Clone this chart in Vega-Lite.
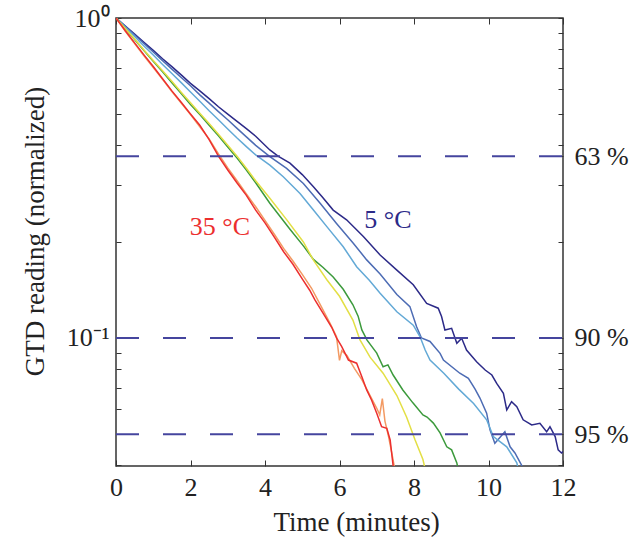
{
  "$schema": "https://vega.github.io/schema/vega-lite/v6.json",
  "width": 447,
  "height": 448,
  "autosize": {"type": "none"},
  "padding": {"left": 116, "top": 18, "right": 75, "bottom": 76},
  "background": "white",
  "config": {
    "view": {"stroke": "#333333", "strokeWidth": 1.5},
    "font": "Liberation Serif",
    "axis": {
      "labelFont": "Liberation Serif",
      "titleFont": "Liberation Serif",
      "labelColor": "#222222",
      "titleColor": "#222222",
      "tickColor": "#333333",
      "domain": false,
      "grid": false,
      "labelFontSize": 26,
      "titleFontSize": 27,
      "titleFontWeight": "normal",
      "labelOverlap": false,
      "labelFlush": false
    }
  },
  "datasets": {
    "curves": [
      {"c":"5 °C","t":0,"v":1},{"c":"5 °C","t":0.25,"v":0.944},{"c":"5 °C","t":0.5,"v":0.891},{"c":"5 °C","t":0.75,"v":0.839},{"c":"5 °C","t":1,"v":0.792},{"c":"5 °C","t":1.25,"v":0.746},{"c":"5 °C","t":1.5,"v":0.705},{"c":"5 °C","t":1.75,"v":0.664},{"c":"5 °C","t":2,"v":0.625},{"c":"5 °C","t":2.25,"v":0.592},{"c":"5 °C","t":2.5,"v":0.56},{"c":"5 °C","t":2.75,"v":0.528},{"c":"5 °C","t":3,"v":0.501},{"c":"5 °C","t":3.25,"v":0.475},{"c":"5 °C","t":3.5,"v":0.451},{"c":"5 °C","t":3.75,"v":0.427},{"c":"5 °C","t":4.13,"v":0.387},{"c":"5 °C","t":4.35,"v":0.37},{"c":"5 °C","t":4.67,"v":0.352},{"c":"5 °C","t":5,"v":0.324},{"c":"5 °C","t":5.3,"v":0.297},{"c":"5 °C","t":5.55,"v":0.275},{"c":"5 °C","t":5.83,"v":0.251},{"c":"5 °C","t":6.19,"v":0.234},{"c":"5 °C","t":6.64,"v":0.2075},{"c":"5 °C","t":7.09,"v":0.1816},{"c":"5 °C","t":7.54,"v":0.163},{"c":"5 °C","t":7.98,"v":0.1466},{"c":"5 °C","t":8.34,"v":0.1282},{"c":"5 °C","t":8.65,"v":0.1239},{"c":"5 °C","t":8.74,"v":0.1167},{"c":"5 °C","t":8.83,"v":0.1059},{"c":"5 °C","t":9.01,"v":0.1072},{"c":"5 °C","t":9.15,"v":0.0962},{"c":"5 °C","t":9.28,"v":0.0998},{"c":"5 °C","t":9.41,"v":0.0917},{"c":"5 °C","t":9.68,"v":0.0843},{"c":"5 °C","t":9.91,"v":0.0794},{"c":"5 °C","t":10.09,"v":0.0766},{"c":"5 °C","t":10.22,"v":0.0721},{"c":"5 °C","t":10.4,"v":0.0671},{"c":"5 °C","t":10.49,"v":0.0596},{"c":"5 °C","t":10.62,"v":0.0632},{"c":"5 °C","t":10.76,"v":0.061},{"c":"5 °C","t":10.93,"v":0.0555},{"c":"5 °C","t":11.16,"v":0.0535},{"c":"5 °C","t":11.38,"v":0.0541},{"c":"5 °C","t":11.56,"v":0.0509},{"c":"5 °C","t":11.65,"v":0.0528},{"c":"5 °C","t":11.79,"v":0.0492},{"c":"5 °C","t":11.87,"v":0.0447},{"c":"5 °C","t":11.96,"v":0.0437},{"c":"5 °C","t":12,"v":0.0442},
      {"c":"10 °C","t":0,"v":1},{"c":"10 °C","t":0.25,"v":0.942},{"c":"10 °C","t":0.5,"v":0.885},{"c":"10 °C","t":0.75,"v":0.832},{"c":"10 °C","t":1,"v":0.783},{"c":"10 °C","t":1.25,"v":0.736},{"c":"10 °C","t":1.5,"v":0.692},{"c":"10 °C","t":1.75,"v":0.652},{"c":"10 °C","t":2,"v":0.614},{"c":"10 °C","t":2.25,"v":0.575},{"c":"10 °C","t":2.5,"v":0.542},{"c":"10 °C","t":2.75,"v":0.51},{"c":"10 °C","t":3,"v":0.481},{"c":"10 °C","t":3.25,"v":0.452},{"c":"10 °C","t":3.5,"v":0.425},{"c":"10 °C","t":3.75,"v":0.4},{"c":"10 °C","t":4.13,"v":0.369},{"c":"10 °C","t":4.58,"v":0.339},{"c":"10 °C","t":5.03,"v":0.304},{"c":"10 °C","t":5.48,"v":0.2636},{"c":"10 °C","t":5.92,"v":0.228},{"c":"10 °C","t":6.37,"v":0.1977},{"c":"10 °C","t":6.73,"v":0.1754},{"c":"10 °C","t":7.09,"v":0.1585},{"c":"10 °C","t":7.54,"v":0.1368},{"c":"10 °C","t":7.89,"v":0.1253},{"c":"10 °C","t":8.07,"v":0.1084},{"c":"10 °C","t":8.2,"v":0.1},{"c":"10 °C","t":8.43,"v":0.0975},{"c":"10 °C","t":8.7,"v":0.0895},{"c":"10 °C","t":8.79,"v":0.0853},{"c":"10 °C","t":9.23,"v":0.0776},{"c":"10 °C","t":9.46,"v":0.0748},{"c":"10 °C","t":9.64,"v":0.0692},{"c":"10 °C","t":9.77,"v":0.0649},{"c":"10 °C","t":9.95,"v":0.0582},{"c":"10 °C","t":10.04,"v":0.0516},{"c":"10 °C","t":10.17,"v":0.0469},{"c":"10 °C","t":10.44,"v":0.0509},{"c":"10 °C","t":10.58,"v":0.0457},{"c":"10 °C","t":10.71,"v":0.0437},{"c":"10 °C","t":10.9,"v":0.0398},{"c":"10 °C","t":10.95,"v":0.038},
      {"c":"15 °C","t":0,"v":1},{"c":"15 °C","t":0.25,"v":0.935},{"c":"15 °C","t":0.5,"v":0.875},{"c":"15 °C","t":0.75,"v":0.818},{"c":"15 °C","t":1,"v":0.766},{"c":"15 °C","t":1.25,"v":0.716},{"c":"15 °C","t":1.5,"v":0.671},{"c":"15 °C","t":1.75,"v":0.628},{"c":"15 °C","t":2,"v":0.5875},{"c":"15 °C","t":2.25,"v":0.5495},{"c":"15 °C","t":2.5,"v":0.513},{"c":"15 °C","t":2.75,"v":0.481},{"c":"15 °C","t":3,"v":0.45},{"c":"15 °C","t":3.25,"v":0.4217},{"c":"15 °C","t":3.5,"v":0.3963},{"c":"15 °C","t":3.75,"v":0.3733},{"c":"15 °C","t":4.13,"v":0.3467},{"c":"15 °C","t":4.49,"v":0.319},{"c":"15 °C","t":4.94,"v":0.283},{"c":"15 °C","t":5.3,"v":0.251},{"c":"15 °C","t":5.66,"v":0.2228},{"c":"15 °C","t":6.1,"v":0.1928},{"c":"15 °C","t":6.46,"v":0.167},{"c":"15 °C","t":6.8,"v":0.1514},{"c":"15 °C","t":7.09,"v":0.138},{"c":"15 °C","t":7.54,"v":0.1208},{"c":"15 °C","t":7.98,"v":0.1096},{"c":"15 °C","t":8.16,"v":0.101},{"c":"15 °C","t":8.3,"v":0.0917},{"c":"15 °C","t":8.43,"v":0.0853},{"c":"15 °C","t":8.8,"v":0.0776},{"c":"15 °C","t":9.2,"v":0.0692},{"c":"15 °C","t":9.6,"v":0.0624},{"c":"15 °C","t":9.95,"v":0.0555},{"c":"15 °C","t":10.13,"v":0.0492},{"c":"15 °C","t":10.49,"v":0.0457},{"c":"15 °C","t":10.76,"v":0.0407},{"c":"15 °C","t":10.82,"v":0.038},
      {"c":"20 °C","t":0,"v":1},{"c":"20 °C","t":0.25,"v":0.925},{"c":"20 °C","t":0.5,"v":0.857},{"c":"20 °C","t":0.75,"v":0.792},{"c":"20 °C","t":1,"v":0.733},{"c":"20 °C","t":1.25,"v":0.679},{"c":"20 °C","t":1.5,"v":0.628},{"c":"20 °C","t":1.75,"v":0.581},{"c":"20 °C","t":2,"v":0.537},{"c":"20 °C","t":2.25,"v":0.499},{"c":"20 °C","t":2.5,"v":0.4624},{"c":"20 °C","t":2.75,"v":0.4285},{"c":"20 °C","t":3,"v":0.3954},{"c":"20 °C","t":3.25,"v":0.3648},{"c":"20 °C","t":3.5,"v":0.335},{"c":"20 °C","t":3.75,"v":0.3055},{"c":"20 °C","t":4.13,"v":0.2636},{"c":"20 °C","t":4.4,"v":0.24},{"c":"20 °C","t":4.67,"v":0.2188},{"c":"20 °C","t":5.03,"v":0.194},{"c":"20 °C","t":5.3,"v":0.176},{"c":"20 °C","t":5.56,"v":0.166},{"c":"20 °C","t":5.83,"v":0.155},{"c":"20 °C","t":6.1,"v":0.142},{"c":"20 °C","t":6.36,"v":0.127},{"c":"20 °C","t":6.5,"v":0.117},{"c":"20 °C","t":6.6,"v":0.106},{"c":"20 °C","t":6.74,"v":0.0985},{"c":"20 °C","t":7,"v":0.0897},{"c":"20 °C","t":7.17,"v":0.0813},{"c":"20 °C","t":7.3,"v":0.0824},{"c":"20 °C","t":7.44,"v":0.0766},{"c":"20 °C","t":7.7,"v":0.0688},{"c":"20 °C","t":7.97,"v":0.0627},{"c":"20 °C","t":8.24,"v":0.0575},{"c":"20 °C","t":8.35,"v":0.0566},{"c":"20 °C","t":8.52,"v":0.0542},{"c":"20 °C","t":8.7,"v":0.0505},{"c":"20 °C","t":8.88,"v":0.0457},{"c":"20 °C","t":9.01,"v":0.0447},{"c":"20 °C","t":9.15,"v":0.0407},{"c":"20 °C","t":9.2,"v":0.038},
      {"c":"25 °C","t":0,"v":1},{"c":"25 °C","t":0.25,"v":0.927},{"c":"25 °C","t":0.5,"v":0.859},{"c":"25 °C","t":0.75,"v":0.794},{"c":"25 °C","t":1,"v":0.736},{"c":"25 °C","t":1.25,"v":0.684},{"c":"25 °C","t":1.5,"v":0.634},{"c":"25 °C","t":1.75,"v":0.586},{"c":"25 °C","t":2,"v":0.543},{"c":"25 °C","t":2.25,"v":0.504},{"c":"25 °C","t":2.5,"v":0.468},{"c":"25 °C","t":2.75,"v":0.4335},{"c":"25 °C","t":3,"v":0.4},{"c":"25 °C","t":3.25,"v":0.37},{"c":"25 °C","t":3.5,"v":0.339},{"c":"25 °C","t":3.75,"v":0.31},{"c":"25 °C","t":4.13,"v":0.2735},{"c":"25 °C","t":4.58,"v":0.2344},{"c":"25 °C","t":5.03,"v":0.1995},{"c":"25 °C","t":5.3,"v":0.175},{"c":"25 °C","t":5.66,"v":0.152},{"c":"25 °C","t":6,"v":0.135},{"c":"25 °C","t":6.36,"v":0.1138},{"c":"25 °C","t":6.55,"v":0.0986},{"c":"25 °C","t":6.82,"v":0.0871},{"c":"25 °C","t":7.17,"v":0.0776},{"c":"25 °C","t":7.54,"v":0.0661},{"c":"25 °C","t":7.8,"v":0.0566},{"c":"25 °C","t":8.03,"v":0.048},{"c":"25 °C","t":8.24,"v":0.0417},{"c":"25 °C","t":8.32,"v":0.038},
      {"c":"30 °C","t":0,"v":1},{"c":"30 °C","t":0.25,"v":0.908},{"c":"30 °C","t":0.5,"v":0.832},{"c":"30 °C","t":0.75,"v":0.762},{"c":"30 °C","t":1,"v":0.7},{"c":"30 °C","t":1.25,"v":0.643},{"c":"30 °C","t":1.5,"v":0.589},{"c":"30 °C","t":1.75,"v":0.542},{"c":"30 °C","t":2,"v":0.499},{"c":"30 °C","t":2.25,"v":0.457},{"c":"30 °C","t":2.5,"v":0.419},{"c":"30 °C","t":2.75,"v":0.376},{"c":"30 °C","t":3,"v":0.34},{"c":"30 °C","t":3.25,"v":0.31},{"c":"30 °C","t":3.5,"v":0.282},{"c":"30 °C","t":3.75,"v":0.257},{"c":"30 °C","t":4,"v":0.233},{"c":"30 °C","t":4.25,"v":0.211},{"c":"30 °C","t":4.5,"v":0.1905},{"c":"30 °C","t":4.75,"v":0.174},{"c":"30 °C","t":5,"v":0.158},{"c":"30 °C","t":5.25,"v":0.143},{"c":"30 °C","t":5.5,"v":0.126},{"c":"30 °C","t":5.75,"v":0.111},{"c":"30 °C","t":5.92,"v":0.101},{"c":"30 °C","t":6,"v":0.0851},{"c":"30 °C","t":6.06,"v":0.0912},{"c":"30 °C","t":6.2,"v":0.0881},{"c":"30 °C","t":6.4,"v":0.0804},{"c":"30 °C","t":6.6,"v":0.0741},{"c":"30 °C","t":6.8,"v":0.0668},{"c":"30 °C","t":7,"v":0.0603},{"c":"30 °C","t":7.08,"v":0.0575},{"c":"30 °C","t":7.15,"v":0.0646},{"c":"30 °C","t":7.22,"v":0.055},{"c":"30 °C","t":7.32,"v":0.049},{"c":"30 °C","t":7.42,"v":0.0427},{"c":"30 °C","t":7.5,"v":0.038},
      {"c":"35 °C","t":0,"v":1},{"c":"35 °C","t":0.25,"v":0.912},{"c":"35 °C","t":0.5,"v":0.836},{"c":"35 °C","t":0.75,"v":0.767},{"c":"35 °C","t":1,"v":0.705},{"c":"35 °C","t":1.25,"v":0.646},{"c":"35 °C","t":1.5,"v":0.592},{"c":"35 °C","t":1.75,"v":0.545},{"c":"35 °C","t":2,"v":0.501},{"c":"35 °C","t":2.25,"v":0.462},{"c":"35 °C","t":2.5,"v":0.417},{"c":"35 °C","t":2.75,"v":0.37},{"c":"35 °C","t":3,"v":0.335},{"c":"35 °C","t":3.25,"v":0.305},{"c":"35 °C","t":3.5,"v":0.279},{"c":"35 °C","t":3.75,"v":0.251},{"c":"35 °C","t":4,"v":0.229},{"c":"35 °C","t":4.25,"v":0.2065},{"c":"35 °C","t":4.5,"v":0.186},{"c":"35 °C","t":4.75,"v":0.17},{"c":"35 °C","t":5,"v":0.153},{"c":"35 °C","t":5.2,"v":0.141},{"c":"35 °C","t":5.34,"v":0.1315},{"c":"35 °C","t":5.57,"v":0.119},{"c":"35 °C","t":5.79,"v":0.108},{"c":"35 °C","t":5.92,"v":0.1},{"c":"35 °C","t":6.06,"v":0.094},{"c":"35 °C","t":6.24,"v":0.0853},{"c":"35 °C","t":6.46,"v":0.0834},{"c":"35 °C","t":6.6,"v":0.0757},{"c":"35 °C","t":6.73,"v":0.0688},{"c":"35 °C","t":6.86,"v":0.064},{"c":"35 °C","t":7,"v":0.0582},{"c":"35 °C","t":7.13,"v":0.0528},{"c":"35 °C","t":7.27,"v":0.0522},{"c":"35 °C","t":7.36,"v":0.048},{"c":"35 °C","t":7.4,"v":0.0437},{"c":"35 °C","t":7.46,"v":0.038}
    ],
    "levels": [
      {"p": 0.37, "label": "63 %"},
      {"p": 0.1, "label": "90 %"},
      {"p": 0.05, "label": "95 %"}
    ],
    "notes": [
      {"t": 2.79, "v": 0.222, "label": "35 °C", "c": "35 °C"},
      {"t": 7.3, "v": 0.234, "label": "5 °C", "c": "5 °C"}
    ]
  },
  "layer": [
    {
      "data": {"name": "curves"},
      "mark": {"type": "line", "strokeWidth": 1.5, "clip": true},
      "encoding": {
        "x": {
          "field": "t", "type": "quantitative",
          "scale": {"domain": [0, 12], "nice": false, "zero": false},
          "axis": {"orient": "bottom", "values": [0, 2, 4, 6, 8, 10, 12], "tickSize": -6, "labelPadding": 14, "title": "Time (minutes)", "titlePadding": 9, "titleX": 240}
        },
        "y": {
          "field": "v", "type": "quantitative",
          "scale": {"type": "log", "domain": [0.0398, 1], "nice": false},
          "axis": {
            "orient": "left",
            "values": [0.04, 0.05, 0.06, 0.07, 0.08, 0.09, 0.1, 0.2, 0.3, 0.4, 0.5, 0.6, 0.7, 0.8, 0.9, 1],
            "labelExpr": "datum.value == 1 ? '10⁰' : (datum.value == 0.1 ? '10⁻¹' : '')",
            "tickSize": -5, "labelPadding": 12,
            "title": "GTD reading (normalized)", "titlePadding": 17, "titleY": 213
          }
        },
        "color": {
          "field": "c", "type": "nominal",
          "scale": {
            "domain": ["5 °C", "10 °C", "15 °C", "20 °C", "25 °C", "30 °C", "35 °C"],
            "range": ["#2c2a88", "#4d6cb4", "#63a9d6", "#3c9a3c", "#e3df45", "#f39a63", "#ec2f2f"]
          },
          "legend": null
        }
      }
    },
    {
      "data": {"name": "levels"},
      "mark": {"type": "rule", "strokeDash": [23, 24], "color": "#45459e", "strokeWidth": 2},
      "encoding": {
        "x": {
          "datum": 0, "type": "quantitative",
          "axis": {"orient": "top", "values": [0, 2, 4, 6, 8, 10, 12], "labels": false, "tickSize": -6, "title": null}
        },
        "x2": {"datum": 12},
        "y": {
          "field": "p", "type": "quantitative",
          "axis": {
            "orient": "right",
            "values": [0.04, 0.05, 0.06, 0.07, 0.08, 0.09, 0.1, 0.2, 0.3, 0.37, 0.4, 0.5, 0.6, 0.7, 0.8, 0.9, 1],
            "labelExpr": "datum.value == 0.37 ? '63 %' : (datum.value == 0.1 ? '90 %' : (datum.value == 0.05 ? '95 %' : ''))",
            "tickSize": -5, "labelPadding": 16, "title": null
          }
        }
      }
    },
    {
      "data": {"name": "notes"},
      "mark": {"type": "text", "fontSize": 26, "font": "Liberation Serif", "align": "center", "baseline": "middle"},
      "encoding": {
        "x": {"field": "t", "type": "quantitative", "axis": null},
        "y": {"field": "v", "type": "quantitative", "axis": null},
        "text": {"field": "label"},
        "color": {"field": "c", "type": "nominal", "legend": null}
      }
    }
  ],
  "resolve": {"axis": {"x": "independent", "y": "independent"}}
}
